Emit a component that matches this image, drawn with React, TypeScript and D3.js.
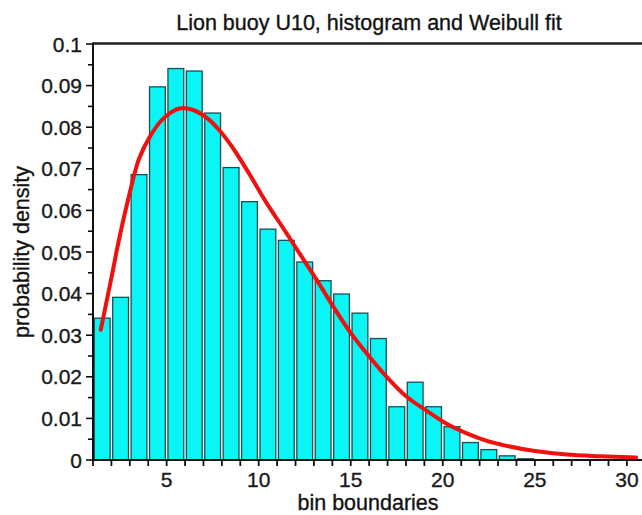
import React from "react";
import * as d3 from "d3";

// ---- data ----
const binLefts = [1, 2, 3, 4, 5, 6, 7, 8, 9, 10, 11, 12, 13, 14, 15, 16, 17, 18, 19, 20, 21, 22, 23, 24];
const densities = [
  0.0341, 0.0391, 0.0686, 0.0897, 0.0941, 0.0935, 0.0834, 0.0703, 0.0621, 0.0555, 0.0528, 0.0476,
  0.0431, 0.0399, 0.0353, 0.0292, 0.0128, 0.0187, 0.0128, 0.008, 0.0042, 0.0025, 0.001, 0.0003,
];
const fitX = [
  1.42, 2.0, 2.4, 3.0, 3.5, 4.1, 4.8, 5.7, 6.4, 7.2, 7.9, 8.6, 9.5, 10.4, 11.5, 12.2, 13.15, 14.05, 14.96,
  15.87, 16.95, 18.04, 19.13, 20.21, 21.3, 22.39, 23.47, 24.92, 26.73, 28.54, 30.5,
];
const fitY = [
  0.0313, 0.0438, 0.0527, 0.0643, 0.0724, 0.0778, 0.082, 0.0845, 0.0842, 0.0822, 0.0791, 0.075, 0.0687,
  0.062, 0.0546, 0.0498, 0.0433, 0.0369, 0.0308, 0.0256, 0.02, 0.0152, 0.0118, 0.0087, 0.0064, 0.0046,
  0.0034, 0.0022, 0.0013, 0.0009, 0.0006,
];
const yMajorTicks = [0, 0.01, 0.02, 0.03, 0.04, 0.05, 0.06, 0.07, 0.08, 0.09, 0.1];
const yTickLabels = ["0", "0.01", "0.02", "0.03", "0.04", "0.05", "0.06", "0.07", "0.08", "0.09", "0.1"];
const yMinorTicks = [0.005, 0.015, 0.025, 0.035, 0.045, 0.055, 0.065, 0.075, 0.085, 0.095];
const xLabelTicks = [5, 10, 15, 20, 25, 30];
const titleText = "Lion buoy U10, histogram and Weibull fit";
const xTitle = "bin boundaries";
const yTitle = "probability density";

const W = 642;
const H = 515;
const FONT = "'Liberation Sans', Arial, sans-serif";

export default function App() {
  const x = d3.scaleLinear().domain([1, 31]).range([93, 93 + 30 * 18.41]);
  const y = d3.scaleLinear().domain([0, 0.1]).range([460, 44]);
  const xMinor = d3.range(1, 31, 1);

  const line = d3
    .line<number>()
    .x((_, i) => x(fitX[i]))
    .y((d) => y(d))
    .curve(d3.curveCatmullRom.alpha(0.5));

  const pad = 1.3;
  const textStyle = { stroke: "#1a1a1a", strokeWidth: 0.35 };

  return (
    <svg
      width={W}
      height={H}
      style={{ position: "absolute", left: 0, top: 0, background: "#fff" }}
      fontFamily={FONT}
    >
      <rect x={0} y={0} width={W} height={H} fill="#fff" />
      {/* bars */}
      {binLefts.map((b, i) => {
        const x0 = x(b) + pad;
        const x1 = x(b + 1) - pad;
        const yt = y(densities[i]);
        return (
          <rect
            key={b}
            x={x0}
            y={yt}
            width={x1 - x0}
            height={y(0) - yt}
            fill="#0af5f5"
            stroke="#1d4f52"
            strokeWidth={1.3}
          />
        );
      })}
      {/* fit curve */}
      <path d={line(fitY) || ""} fill="none" stroke="#f01010" strokeWidth={4} strokeLinejoin="round" strokeLinecap="round" />
      {/* top border */}
      <line x1={x(1)} x2={W} y1={y(0.1) - 0.5} y2={y(0.1) - 0.5} stroke="#222" strokeWidth={2.5} />
      {/* axes */}
      <line x1={x(1)} x2={x(1)} y1={y(0.1) - 1.5} y2={y(0) + 1} stroke="#111" strokeWidth={2} />
      <line x1={x(1) - 1} x2={W} y1={y(0)} y2={y(0)} stroke="#111" strokeWidth={2} />
      {/* y ticks */}
      {yMajorTicks.map((t, i) => (
        <g key={"ym" + t}>
          <line x1={x(1) - 7} x2={x(1)} y1={y(t)} y2={y(t)} stroke="#111" strokeWidth={1.6} />
          <text x={x(1) - 11} y={y(t) + 7.5} textAnchor="end" fontSize={21} fill="#1a1a1a" style={textStyle}>
            {yTickLabels[i]}
          </text>
        </g>
      ))}
      {yMinorTicks.map((t) => (
        <line key={"yn" + t} x1={x(1) - 5} x2={x(1)} y1={y(t)} y2={y(t)} stroke="#111" strokeWidth={1.6} />
      ))}
      {/* x ticks */}
      {xMinor.map((t) => (
        <line key={"xt" + t} x1={x(t)} x2={x(t)} y1={y(0)} y2={y(0) + 6} stroke="#111" strokeWidth={1.8} />
      ))}
      {xLabelTicks.map((t) => (
        <text key={"xl" + t} x={x(t)} y={487} textAnchor="middle" fontSize={21} fill="#1a1a1a" style={textStyle}>
          {t}
        </text>
      ))}
      {/* titles */}
      <text x={369} y={30} textAnchor="middle" fontSize={21.5} fill="#111" style={textStyle}>
        {titleText}
      </text>
      <text x={368} y={510} textAnchor="middle" fontSize={21.5} fill="#111" style={textStyle}>
        {xTitle}
      </text>
      <text
        transform={`translate(29, ${(y(0) + y(0.1)) / 2}) rotate(-90)`}
        textAnchor="middle"
        fontSize={21.5}
        fill="#111"
        style={textStyle}
      >
        {yTitle}
      </text>
    </svg>
  );
}
